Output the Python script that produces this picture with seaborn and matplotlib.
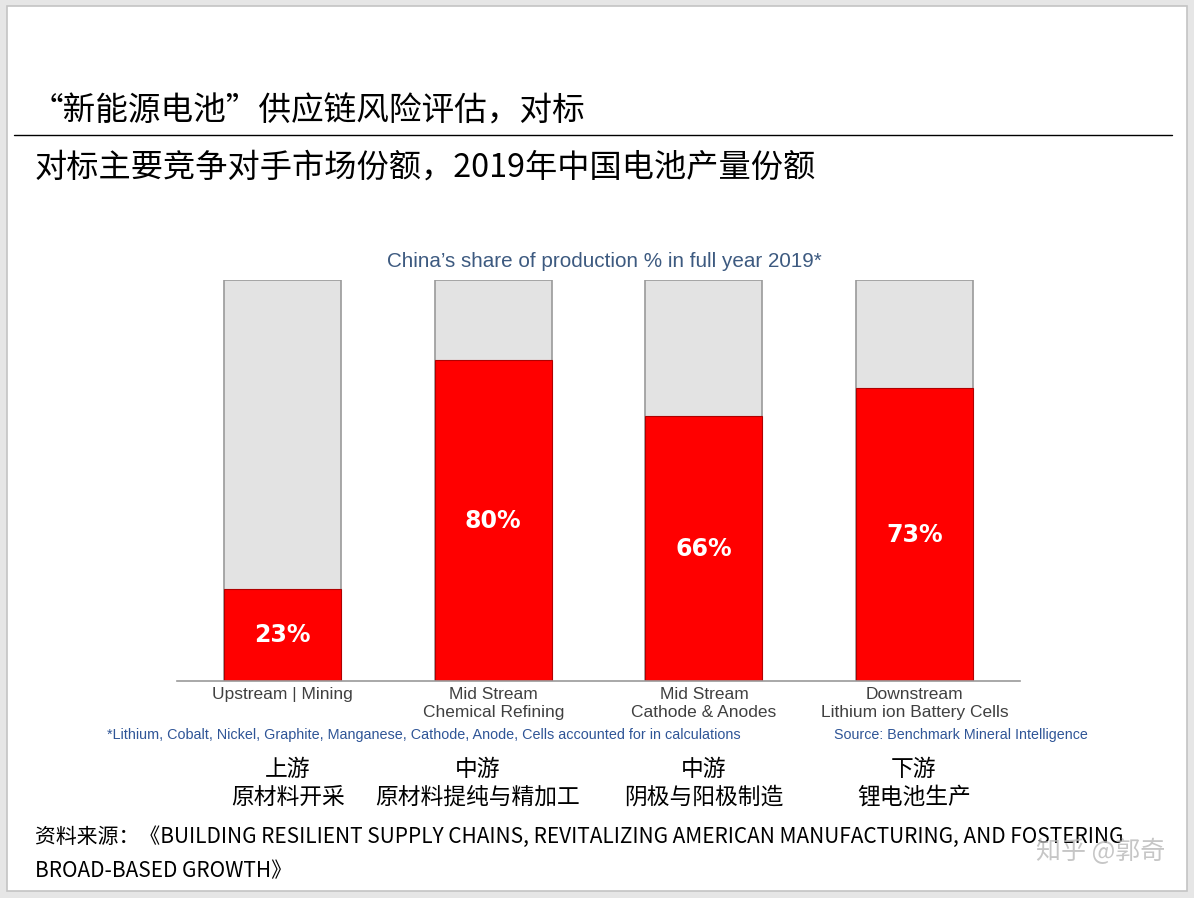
import matplotlib
matplotlib.use("Agg")
import matplotlib.pyplot as plt
from matplotlib.patches import Rectangle
import pandas as pd
import seaborn as sns

# data
stages = ["Upstream | Mining", "Mid Stream\nChemical Refining",
          "Mid Stream\nCathode & Anodes", "Downstream\nLithium ion Battery Cells"]
china_share = [23, 80, 66, 73]
total_share = [100, 100, 100, 100]
stage_cn_top = ["上游", "中游", "中游", "下游"]
stage_cn_bottom = ["原材料开采", "原材料提纯与精加工", "阴极与阳极制造", "锂电池生产"]

headline = "“新能源电池”供应链风险评估，对标"
subtitle = "对标主要竞争对手市场份额，2019年中国电池产量份额"
chart_title = "China’s share of production % in full year 2019*"
footnote = "*Lithium, Cobalt, Nickel, Graphite, Manganese, Cathode, Anode, Cells accounted for in calculations"
source_en = "Source: Benchmark Mineral Intelligence"
source_cn_1 = "资料来源：《BUILDING RESILIENT SUPPLY CHAINS, REVITALIZING AMERICAN MANUFACTURING, AND FOSTERING"
source_cn_2 = "BROAD-BASED GROWTH》"
watermark = "知乎 @郭奇"

df = pd.DataFrame({"stage": stages, "china": china_share, "total": total_share})

sns.set_theme(style="white")
plt.rcParams["font.family"] = ["Noto Sans CJK SC", "DejaVu Sans"]

W, H = 1194, 898
fig = plt.figure(figsize=(W / 100, H / 100), dpi=100)
fig.patch.set_facecolor("#e6e6e6")


def px(x, y):
    return x / W, 1 - y / H


# white slide with a thin border
fig.patches.append(Rectangle(px(7, 891), 1180 / W, 885 / H, transform=fig.transFigure,
                             facecolor="white", edgecolor="#c4c4c4", lw=1.2, zorder=-5))

# headings
fig.text(*px(31, 112), headline, fontsize=23.5, va="center", ha="left", color="black")
fig.add_artist(plt.Line2D([14 / W, 1172 / W], [1 - 135 / H] * 2, color="black", lw=1.0,
                          transform=fig.transFigure))
fig.text(*px(35, 168), subtitle, fontsize=23.2, va="center", ha="left", color="black")

# bar chart
ax = fig.add_axes([177.2 / W, 1 - 681 / H, 842.7 / W, 401 / H])
sns.barplot(data=df, x="stage", y="total", color="#e3e3e3", edgecolor="#9a9a9a",
            linewidth=1.2, width=0.555, saturation=1, ax=ax)
sns.barplot(data=df, x="stage", y="china", color="#ff0000", edgecolor="#b00000",
            linewidth=0.8, width=0.555, saturation=1, ax=ax)
ax.set_xlim(-0.5, 3.5)
ax.set_ylim(0, 100)
ax.set_xlabel("")
ax.set_ylabel("")
ax.set_yticks([])
ax.tick_params(axis="x", length=0, pad=4)
for lab in ax.get_xticklabels():
    lab.set_fontfamily("Liberation Sans")
    lab.set_fontsize(12.5)
    lab.set_color("#404040")
    lab.set_linespacing(1.3)
for s in ["top", "left", "right"]:
    ax.spines[s].set_visible(False)
ax.spines["bottom"].set_color("#9a9a9a")
ax.spines["bottom"].set_linewidth(1.2)
ax.patch.set_alpha(0)

for i, v in enumerate(china_share):
    ax.text(i, v / 2, f"{v}%", ha="center", va="center", color="white",
            fontsize=17, fontweight="bold", family="DejaVu Sans")

fig.text(*px(604, 262), chart_title, fontsize=14.9, ha="center", va="center",
         color="#3d5a80", family="Liberation Sans")
fig.text(*px(107, 735), footnote, fontsize=10.4, ha="left", va="center",
         color="#2f5597", family="Liberation Sans")
fig.text(*px(1088, 735), source_en, fontsize=10.3, ha="right", va="center",
         color="#2f5597", family="Liberation Sans")

# Chinese stage labels
centers = [288, 478, 704, 914]
for cx, top, bottom in zip(centers, stage_cn_top, stage_cn_bottom):
    fig.text(*px(cx, 769), top, fontsize=16.4, ha="center", va="center", color="black")
    fig.text(*px(cx, 797), bottom, fontsize=16.4, ha="center", va="center", color="black")

# source line
fig.text(*px(35, 837), source_cn_1, fontsize=15, ha="left", va="center", color="black")
fig.text(*px(35, 871), source_cn_2, fontsize=15, ha="left", va="center", color="black")

# watermark sits over the end of the source line, as in the original
fig.text(*px(1165, 852), watermark, fontsize=18, ha="right", va="center",
         color="#b8b8b8", alpha=0.8)

fig.savefig("out.png", dpi=100, facecolor=fig.get_facecolor())
